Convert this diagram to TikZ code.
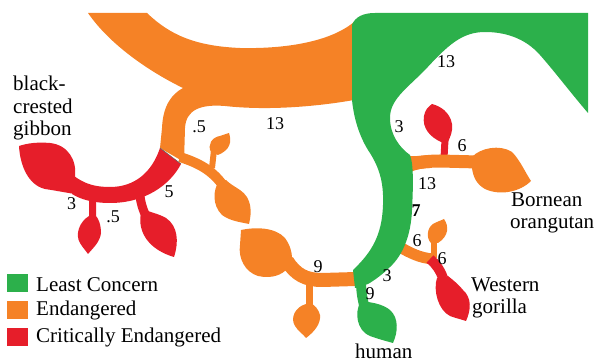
\documentclass[tikz,border=0pt]{standalone}
\usepackage{fontspec}
\setmainfont{Liberation Serif}
\definecolor{lcgreen}{RGB}{44,176,75}
\definecolor{enorange}{RGB}{245,130,38}
\definecolor{crred}{RGB}{230,30,42}
\begin{document}
\begin{tikzpicture}[x=1pt,y=-1pt,
  gfill/.style={fill=lcgreen},
  ofill/.style={fill=enorange},
  rfill/.style={fill=crred},
  ostroke/.style={draw=enorange,line width=#1},
  rstroke/.style={draw=crred,line width=#1},
  gstroke/.style={draw=lcgreen,line width=#1},
  num/.style={font=\fontsize{18}{20}\selectfont,anchor=base,inner sep=0pt},
  spname/.style={font=\fontsize{21}{22}\selectfont,anchor=base west,inner sep=0pt},
  legbox/.style={minimum width=21pt,minimum height=18pt,inner sep=0pt}]
\useasboundingbox (0,0) rectangle (598,363);
% orange band with gibbon branch
\fill[ofill] (88,13) -- (147,13) .. controls (170,35) and (195,46) .. (240,48) .. controls (285,49) and (330,42) .. (354,22) -- (354,100) .. controls (320,106) and (270,111) .. (225,106) .. controls (200,104) and (186,110) .. (185,128) -- (184,162) -- (160,148) -- (162,128) .. controls (163,105) and (172,94) .. (183,88) .. controls (150,72) and (110,45) .. (88,13) -- cycle;
% orange chain
\draw[ostroke=10] (180,157) .. controls (195,162) and (210,168) .. (222,184);
\draw[ostroke=6] (212,168) -- (214,150);
\fill[ofill] (211,152) .. controls (207,145) and (212,137) .. (220,136) .. controls (223,135) and (226,134) .. (229,133) .. controls (232,142) and (230,150) .. (218,155) -- cycle;
\fill[ofill] (219,181) .. controls (213,190) and (212,205) .. (222,215) .. controls (230,221) and (240,222) .. (249,224) .. controls (252,212) and (252,198) .. (240,190) .. controls (234,186) and (230,184) .. (226,180) -- cycle;
% red gibbon arc
\fill[rfill] (160,148) -- (181,164) .. controls (170,185) and (145,203) .. (110,203) .. controls (92,203) and (80,199) .. (72,194) -- (74,176) .. controls (85,184) and (95,187) .. (110,187) .. controls (135,187) and (152,172) .. (160,148) -- cycle;
\draw[black!60,line width=0.6pt] (160,148) -- (181,164);
\fill[rfill] (75,177) .. controls (77,160) and (68,145) .. (50,143) .. controls (38,142) and (28,143) .. (19,146) .. controls (20,165) and (28,185) .. (45,189) .. controls (58,191) and (68,193) .. (75,194) -- cycle;
\fill[rfill] (89,200) -- (89,216) .. controls (79,222) and (75,235) .. (80,243) .. controls (83,248) and (86,251) .. (88,254) .. controls (93,248) and (100,242) .. (101,233) .. controls (101,224) and (98,218) .. (96,216) -- (96,200) -- cycle;
\draw[rstroke=9] (140,196) .. controls (141,204) and (143,210) .. (146,216);
\fill[rfill] (141,213) .. controls (137,233) and (150,250) .. (174,257) .. controls (179,242) and (178,226) .. (166,218) .. controls (159,214) and (153,213) .. (148,211) -- cycle;
% orange 9 arc
\draw[ostroke=14] (287,261) .. controls (296,275) and (306,280) .. (322,280) -- (356,279);
\fill[ofill] (241,230) .. controls (255,227) and (275,227) .. (285,238) .. controls (290,245) and (292,252) .. (292,258) -- (288,268) .. controls (282,275) and (272,279) .. (258,276) .. controls (245,272) and (238,258) .. (240,245) -- cycle;
\draw[ostroke=7] (309,284) -- (309,306);
\fill[ofill] (306,304) .. controls (295,307) and (290,318) .. (295,326) .. controls (298,331) and (303,334) .. (306,338) .. controls (314,332) and (321,324) .. (320,315) .. controls (318,308) and (314,305) .. (312,304) -- cycle;
% orangutan branch
\draw[rstroke=7] (444,158) -- (445,140);
\fill[rfill] (441,142) .. controls (430,137) and (422,128) .. (424,116) .. controls (425,110) and (428,107) .. (432,104) .. controls (440,106) and (450,112) .. (452,124) .. controls (453,132) and (450,137) .. (448,142) -- cycle;
\fill[ofill] (404,155) .. controls (410,157) and (418,156) .. (430,155) -- (430,168) .. controls (418,168) and (410,172) .. (404,175) -- cycle;
\draw[ostroke=13] (405,165) .. controls (420,162) and (430,161) .. (440,161) -- (478,162);
\fill[ofill] (472,157) .. controls (480,148) and (500,144) .. (512,152) .. controls (520,160) and (525,172) .. (531,181) .. controls (520,192) and (500,196) .. (485,189) .. controls (476,184) and (473,176) .. (472,168) -- cycle;
% gorilla branch
\draw[ostroke=11] (398,246) .. controls (410,253) and (420,258) .. (433,259);
\draw[ostroke=6] (434,258) -- (434,240);
\fill[ofill] (431,243) .. controls (426,238) and (427,228) .. (433,224) .. controls (436,222) and (440,221) .. (444,219) .. controls (449,226) and (449,236) .. (438,243) -- cycle;
\draw[rstroke=10] (430,259) .. controls (436,264) and (440,270) .. (443,278);
\fill[rfill] (437,278) .. controls (433,290) and (438,310) .. (450,316) .. controls (455,318) and (460,319) .. (466,321) .. controls (471,310) and (472,298) .. (463,290) .. controls (458,284) and (453,280) .. (448,276) -- cycle;
% green
\fill[gfill] (352,100) -- (352,25) .. controls (355,17) and (363,13) .. (375,13) -- (588,13) -- (588,113) .. controls (570,92) and (555,72) .. (540,55) .. controls (525,38) and (505,32) .. (485,32) .. controls (462,32) and (448,45) .. (425,70) .. controls (405,90) and (390,100) .. (390,118) .. controls (390,135) and (400,148) .. (410,155) .. controls (414,165) and (413,190) .. (412,210) .. controls (411,235) and (403,255) .. (390,267) .. controls (383,274) and (375,280) .. (368,284) -- (355,288) -- (353,270) .. controls (372,252) and (382,235) .. (383,205) .. controls (384,180) and (378,165) .. (368,150) .. controls (360,137) and (354,120) .. (352,100) -- cycle;
\draw[gstroke=10] (361,280) .. controls (361,290) and (362,297) .. (364,305);
\fill[gfill] (360,303) .. controls (355,312) and (356,330) .. (370,336) .. controls (378,339) and (386,341) .. (393,343) .. controls (398,332) and (399,318) .. (390,310) .. controls (384,305) and (375,303) .. (368,302) -- cycle;
% numbers
\node[num] (n1) at (199,133) {.5};
\node[num] (n2) at (275,130) {13};
\node[num] (n3) at (169,198) {5};
\node[num] (n4) at (71.5,210) {3};
\node[num] (n5) at (113,223) {.5};
\node[num] (n6) at (446,68) {13};
\node[num] (n7) at (399,133) {3};
\node[num] (n8) at (462,152) {6};
\node[num] (n9) at (427,190) {13};
\node[num,font=\fontsize{18}{20}\selectfont\bfseries] (n10) at (416,217) {7};
\node[num] (n11) at (417,247) {6};
\node[num] (n12) at (442,265) {6};
\node[num] (n13) at (387,282) {3};
\node[num] (n14) at (370,300) {9};
\node[num] (n15) at (318,273) {9};
% species names
\node[spname] (g1) at (13,91) {black-};
\node[spname] (g2) at (13,113.5) {crested};
\node[spname] (g3) at (13,136) {gibbon};
\node[spname] (o1) at (511,207) {Bornean};
\node[spname] (o2) at (510,229) {orangutan};
\node[spname] (w1) at (471,292) {Western};
\node[spname] (w2) at (472,313.5) {gorilla};
\node[spname] (h1) at (355,358.5) {human};
% legend
\node[legbox,gfill] (lg) at (17.5,283.5) {};
\node[legbox,ofill] (lo) at (17.5,310) {};
\node[legbox,rfill] (lr) at (17.5,337.5) {};
\node[spname] (tg) at (36,292) {Least Concern};
\node[spname] (to) at (36,316) {Endangered};
\node[spname] (tr) at (36,342.5) {Critically Endangered};
\end{tikzpicture}
\end{document}
